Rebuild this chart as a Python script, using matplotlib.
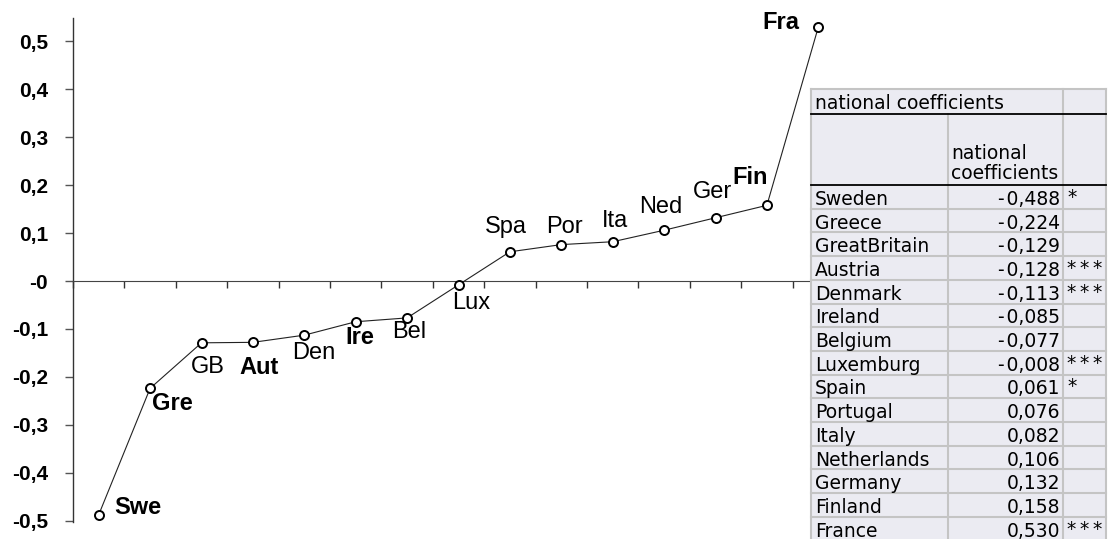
import matplotlib
matplotlib.use('Agg')
import matplotlib.pyplot as plt
from matplotlib.patches import Rectangle
import numpy as np

# ============================================================
# Data
# ============================================================
short_names = ["Swe", "Gre", "GB", "Aut", "Den", "Ire", "Bel", "Lux",
               "Spa", "Por", "Ita", "Ned", "Ger", "Fin", "Fra"]
countries = ["Sweden", "Greece", "GreatBritain", "Austria", "Denmark", "Ireland",
             "Belgium", "Luxemburg", "Spain", "Portugal", "Italy", "Netherlands",
             "Germany", "Finland", "France"]
coefs = [-0.488, -0.224, -0.129, -0.128, -0.113, -0.085, -0.077, -0.008,
         0.061, 0.076, 0.082, 0.106, 0.132, 0.158, 0.530]
stars = ["*", "", "", "***", "***", "", "", "***", "*", "", "", "", "", "", "***"]
bold_labels = [True, True, False, True, False, True, False, False,
               False, False, False, False, False, True, True]
ytick_vals = [-0.5, -0.4, -0.3, -0.2, -0.1, 0.0, 0.1, 0.2, 0.3, 0.4, 0.5]
ytick_labels = ["-0,5", "-0,4", "-0,3", "-0,2", "-0,1", "-0", "0,1", "0,2", "0,3", "0,4", "0,5"]

# label offsets from the point, in pixels (dx, dy), left edge / center
label_offsets = [(16, 7), (2, -15), (-11, -24), (-13, -25), (-12, -18), (-10, -16),
                 (-15, -14), (-6, -18), (-25, 25), (-15, 18), (-11, 21), (-25, 23),
                 (-23, 26), (-35, 28), (-56, 5)]

W, H = 1109, 539
fig = plt.figure(figsize=(W / 100, H / 100), dpi=100)

# ============================================================
# Main chart
# ============================================================
x0, x1 = 73, 844
ytop, ybot = 18, 522
ax = fig.add_axes([x0 / W, (H - ybot) / H, (x1 - x0) / W, (ybot - ytop) / H])
x = np.arange(len(coefs))
ax.plot(x, coefs, color='#222222', lw=0.8, marker='o', ms=6.5,
        mfc='white', mec='black', mew=1.4, zorder=3, clip_on=False)

ax.set_xlim(-0.5, len(coefs) - 0.5)
ax.set_ylim(-0.503, 0.549)

for s in ['top', 'right']:
    ax.spines[s].set_visible(False)
ax.spines['bottom'].set_position(('data', 0))
ax.spines['bottom'].set_color('#444444')
ax.spines['left'].set_color('#333333')
ax.spines['left'].set_linewidth(1.0)

ax.set_xticks(np.arange(-0.5, len(coefs), 1.0))
ax.set_xticklabels([])
ax.tick_params(axis='x', direction='out', length=5, width=1, color='#333333')
ax.set_yticks(ytick_vals)
ax.set_yticklabels(ytick_labels, fontsize=15, fontweight='bold',
                   family='Liberation Sans')
ax.tick_params(axis='y', direction='out', length=6, width=1, color='#555555', pad=12)

for i, (name, v) in enumerate(zip(short_names, coefs)):
    dx, dy = label_offsets[i]
    ax.annotate(name, (i, v), xytext=(dx, dy), textcoords='offset pixels',
                ha='left', va='center', fontsize=17, family='Liberation Sans',
                fontweight='bold' if bold_labels[i] else 'normal')

# ============================================================
# Table (figure pixel coordinates)
# ============================================================
tab = fig.add_axes([0, 0, 1, 1], zorder=5)
tab.set_xlim(0, W)
tab.set_ylim(H, 0)
tab.axis('off')

cx = [811, 947.5, 1063, 1106]
t_top, t_title, t_head = 89, 114, 185
row_h = 23.7
t_bot = t_head + row_h * len(countries)
bg = '#ebebf2'
grid = '#c4c4c4'
fs = 13.5

tab.add_patch(Rectangle((cx[0], t_top), cx[3] - cx[0], t_bot - t_top,
                        facecolor=bg, edgecolor='none'))
# outer + grid lines
tab.plot([cx[0], cx[3]], [t_top, t_top], color=grid, lw=1.5)
tab.plot([cx[0], cx[0]], [t_top, t_bot], color=grid, lw=1.5)
tab.plot([cx[3], cx[3]], [t_top, t_bot], color=grid, lw=1.5)
tab.plot([cx[1], cx[1]], [t_title, t_bot], color=grid, lw=1.5)
tab.plot([cx[2], cx[2]], [t_top, t_bot], color=grid, lw=1.5)
for r in range(1, len(countries)):
    yy = t_head + r * row_h
    tab.plot([cx[0], cx[3]], [yy, yy], color=grid, lw=1.5)
tab.plot([cx[0], cx[3]], [t_title, t_title], color='black', lw=1.3)
tab.plot([cx[0], cx[3]], [t_head, t_head], color='black', lw=1.3)

tab.text(cx[0] + 4, (t_top + t_title) / 2 + 2, "national coefficients",
         ha='left', va='center', fontsize=fs, family='DejaVu Sans')
tab.text(cx[1] + 4, t_head - 2, "national\ncoefficients", ha='left', va='bottom',
         fontsize=fs, family='DejaVu Sans', linespacing=1.05)

for r, (c, v, s) in enumerate(zip(countries, coefs, stars)):
    yc = t_head + (r + 0.5) * row_h + 2.5
    tab.text(cx[0] + 4, yc, c, ha='left', va='center', fontsize=fs, family='DejaVu Sans')
    tab.text(cx[2] - 3, yc, f"{v:.3f}".replace('.', ',').replace('-', '-\u200a'),
             ha='right', va='center', fontsize=fs, family='DejaVu Sans')
    if s:
        tab.text(cx[2] + 4, yc - 2, '\u2009'.join(s), ha='left', va='center',
                 fontsize=fs, family='DejaVu Sans')

fig.savefig('out.png', dpi=100)
